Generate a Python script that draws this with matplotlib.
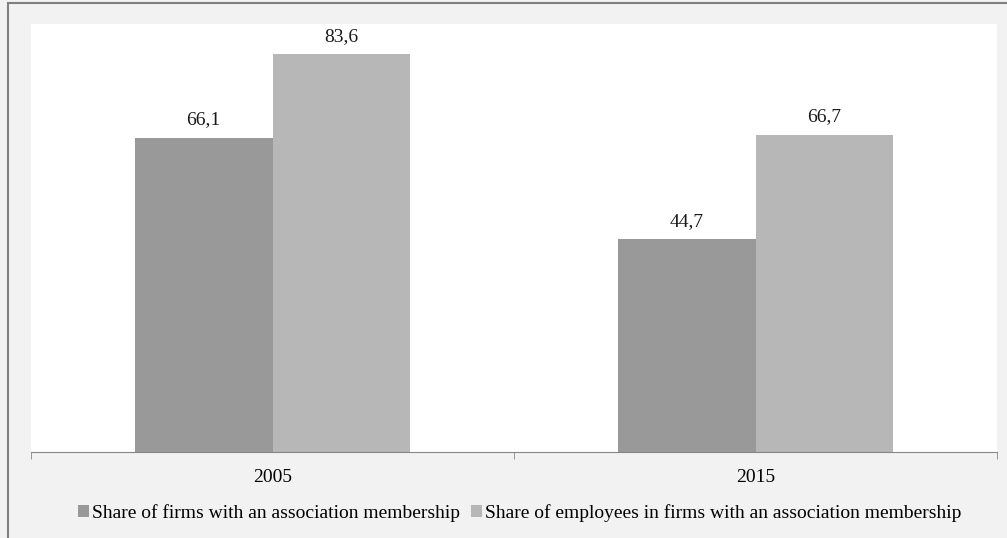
import matplotlib.pyplot as plt
import matplotlib.patches as patches
import numpy as np

years = ['2005', '2015']
firms = [66.1, 44.7]
employees = [83.6, 66.7]
series_names = ['Share of firms with an association membership',
                'Share of employees in firms with an association membership']

plt.rcParams['font.family'] = ['Liberation Serif', 'DejaVu Serif']

fig = plt.figure(figsize=(10.07, 5.38), dpi=100, facecolor='#f2f2f2')
ax = fig.add_axes([31 / 1007, 86 / 538, 966 / 1007, 428 / 538])
ax.set_facecolor('white')

x = np.arange(len(years))
w = 0.285
b1 = ax.bar(x - w / 2, firms, w, color='#999999', label=series_names[0])
b2 = ax.bar(x + w / 2, employees, w, color='#b7b7b7', label=series_names[1])

for bars in (b1, b2):
    for r in bars:
        h = r.get_height()
        ax.annotate(f'{h:.1f}'.replace('.', ','), (r.get_x() + r.get_width() / 2, h),
                    xytext=(0, 7), textcoords='offset points',
                    ha='center', va='bottom', fontsize=14, color='#1a1a1a')

ax.set_xlim(-0.5, 1.5)
ax.set_ylim(0, 90)
ax.set_yticks([])
ax.set_xticks(x)
ax.set_xticklabels(years, fontsize=14)
ax.set_xticks([-0.5, 0.5, 1.5], minor=True)
ax.tick_params(axis='x', which='major', length=0, pad=12)
ax.tick_params(axis='x', which='minor', length=5, color='#868686')
for s in ['top', 'right', 'left']:
    ax.spines[s].set_visible(False)
ax.spines['bottom'].set_color('#868686')

fig.legend(handles=[b1, b2], loc='center', bbox_to_anchor=(0.516, 25 / 538),
           ncol=2, frameon=False, fontsize=14, handlelength=0.55, handleheight=0.55,
           handletextpad=0.15, columnspacing=0.6)

# outer frame of the chart box
fig.patches.append(patches.Rectangle((8 / 1007, -0.1), 1.1, 1.1 - 2.5 / 538,
                                     transform=fig.transFigure, fill=False,
                                     edgecolor='#808080', linewidth=1.5))

plt.savefig('out.png', dpi=100, facecolor=fig.get_facecolor())
